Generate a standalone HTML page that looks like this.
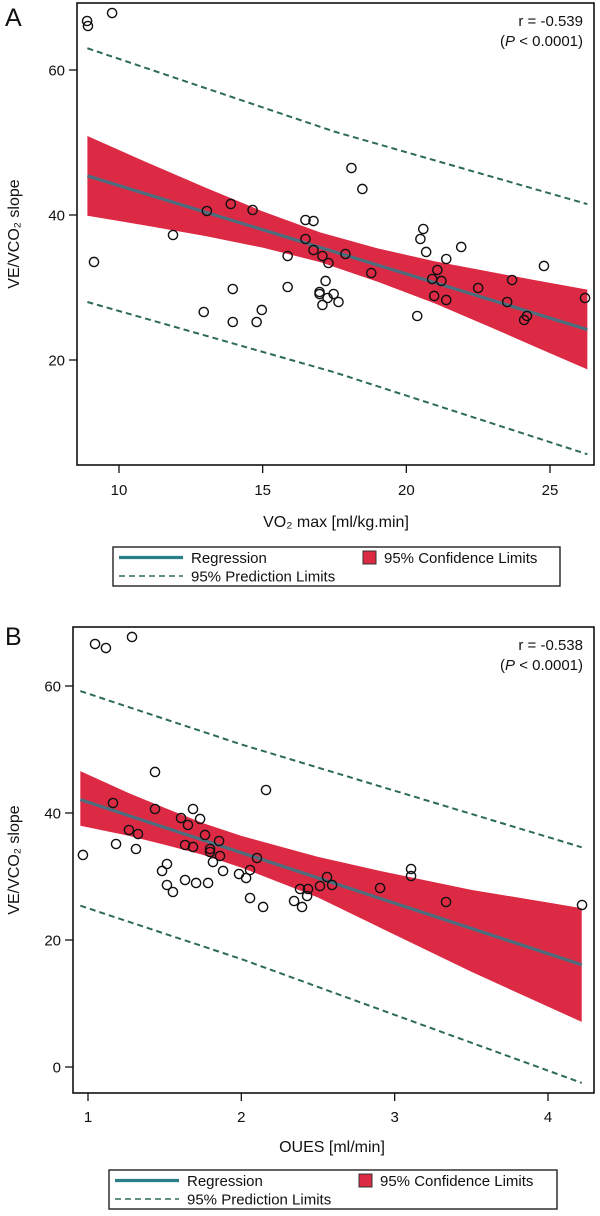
<!DOCTYPE html>
<html><head><meta charset="utf-8"><style>
html,body{margin:0;padding:0;background:#fff}
svg{display:block}
text{font-family:"Liberation Sans",Arial,sans-serif;fill:#111}
</style></head><body>
<svg id="fig" width="600" height="1216" viewBox="0 0 600 1216" xmlns="http://www.w3.org/2000/svg"></svg>
<script>
// ---------- Panel A data ----------
const aPointsX = [8.89,8.92,9.76,9.13,11.88,13.06,13.89,14.65,16.49,16.77,16.49,16.77,17.08,17.29,15.87,17.19,15.87,13.96,16.98,16.98,17.26,17.47,17.08,17.64,12.95,14.97,13.96,14.79,18.09,18.47,20.59,20.49,20.69,21.91,21.39,17.88,18.78,21.08,20.90,21.22,22.50,23.68,24.79,20.97,21.39,23.51,20.38,26.22,24.20,24.10];
const aPointsY = [66.76,66.07,67.86,33.52,37.24,40.55,41.52,40.69,39.31,39.17,36.69,35.17,34.34,33.38,34.34,30.90,30.07,29.79,29.38,29.10,28.55,29.10,27.59,28.0,26.62,26.90,25.24,25.24,46.48,43.59,38.07,36.69,34.90,35.59,33.93,34.62,32.0,32.41,31.17,30.90,29.93,31.03,32.97,28.83,28.28,28.0,26.07,28.55,26.07,25.52];
const aRegX = [8.9,26.3];
const aRegY = [45.4,24.2];
const aCIX = [8.9,11,13,15,17,19,21,23,24.5,26.3];
const aCIUpper = [50.9,47.2,43.8,40.5,37.6,35.4,33.6,32.1,31.0,29.7];
const aCILower = [39.9,38.5,37.1,35.5,33.5,30.8,27.8,24.4,21.8,18.7];
const aPIX = [8.9,17.5,26.3];
const aPIUpper = [63.0,51.5,41.5];
const aPILower = [28.0,18.3,7.0];
const aXTicks = [10,15,20,25];
const aYTicks = [20,40,60];
// ---------- Panel B data ----------
const bPointsX = [1.046,1.117,1.287,1.437,1.163,1.437,1.685,1.607,1.731,1.652,1.267,1.326,1.763,1.855,1.183,1.633,1.685,1.313,1.796,1.796,1.861,0.967,2.102,1.815,1.515,1.483,1.881,2.057,1.985,2.031,1.633,1.705,1.783,1.515,1.554,2.057,2.142,2.161,2.559,2.513,2.592,2.383,2.435,2.429,2.344,2.396,2.905,3.107,3.107,3.335,4.222];
const bPointsY = [66.61,65.98,67.72,46.46,41.57,40.63,40.63,39.21,39.06,38.11,37.32,36.69,36.54,35.59,35.12,34.96,34.65,34.33,34.33,33.86,33.23,33.39,32.91,32.28,31.97,30.87,30.87,31.02,30.39,29.76,29.45,28.98,28.98,28.66,27.56,26.61,25.20,43.62,29.92,28.50,28.66,28.03,28.03,26.93,26.14,25.20,28.19,31.18,30.08,25.98,25.51];
const bRegX = [0.95,4.22];
const bRegY = [42.1,16.1];
const bCIX = [0.95,1.25,1.5,1.75,2.0,2.5,2.9,3.5,4.0,4.22];
const bCIUpper = [46.6,43.3,40.8,38.4,36.4,33.1,30.9,27.9,25.9,25.0];
const bCILower = [38.0,36.5,35.0,33.4,31.4,26.7,22.0,15.0,9.5,7.1];
const bPIX = [0.95,2.0,4.22];
const bPIUpper = [59.2,50.8,34.6];
const bPILower = [25.4,17.0,-2.5];
const bXTicks = [1,2,3,4];
const bYTicks = [0,20,40,60];

const NS = "http://www.w3.org/2000/svg";
const svg = document.getElementById('fig');
function mk(tag, attrs, parent){
  const e = document.createElementNS(NS, tag);
  for (const k in attrs) e.setAttribute(k, attrs[k]);
  (parent||svg).appendChild(e);
  return e;
}
function lin(d0,d1,r0,r1){ return v => r0 + (v-d0)*(r1-r0)/(d1-d0); }

function panel(cfg){
  const g = mk('g', {});
  
  
  const x = lin(cfg.xd0, cfg.xd1, cfg.xr0, cfg.xr1);
  const y = lin(cfg.yd0, cfg.yd1, cfg.yr0, cfg.yr1);
  const L=cfg.left, R=cfg.right, T=cfg.top, B=cfg.bottom;
  let d = '';
  cfg.ciX.forEach((v,i)=>{ d += (i?'L':'M') + x(v).toFixed(2) + ',' + y(cfg.ciU[i]).toFixed(2); });
  for (let i=cfg.ciX.length-1;i>=0;i--) d += 'L' + x(cfg.ciX[i]).toFixed(2) + ',' + y(cfg.ciL[i]).toFixed(2);
  const band = mk('path', {d: d+'Z', fill:'#dc2a44', stroke:'none'}, g);
  
  
  [['upper',cfg.piU],['lower',cfg.piL]].forEach(([nm,arr])=>{
    const pts = cfg.piX.map((v,i)=>x(v).toFixed(2)+','+y(arr[i]).toFixed(2)).join(' ');
    const pl = mk('polyline', {points:pts, fill:'none', stroke:'#2e6b57', 'stroke-width':2, 'stroke-dasharray':'6,4'}, g);
    
    
  });
  const reg = mk('line', {x1:x(cfg.regX[0]), y1:y(cfg.regY[0]), x2:x(cfg.regX[1]), y2:y(cfg.regY[1]), stroke:'#4d6e7e', 'stroke-width':3.2}, g);
  
  
  cfg.px.forEach((v,i)=>{
    const c = mk('circle', {cx:x(v).toFixed(2), cy:y(cfg.py[i]).toFixed(2), r:4.6, fill:'none', stroke:'#111', 'stroke-width':1.4}, g);
    
    
  });
  const fr = mk('rect', {x:L, y:T, width:R-L, height:B-T, fill:'none', stroke:'#111', 'stroke-width':1.6}, g);
  
  
  cfg.xt.forEach(v=>{
    const tl = mk('line', {x1:x(v), x2:x(v), y1:B, y2:B+8, stroke:'#111', 'stroke-width':1.3}, g);
    
    
    const t = mk('text', {x:x(v), y:cfg.xtY, 'text-anchor':'middle', 'font-size':15}, g);
    t.textContent = v;
    
    
  });
  cfg.yt.forEach(v=>{
    const tl = mk('line', {x1:L-8, x2:L, y1:y(v), y2:y(v), stroke:'#111', 'stroke-width':1.3}, g);
    
    
    const t = mk('text', {x:L-12, y:y(v)+5.5, 'text-anchor':'end', 'font-size':15}, g);
    t.textContent = v;
    
    
  });
  const xt = mk('text', {x:cfg.xTitleX, y:cfg.xTitleY, 'text-anchor':'middle', 'font-size':16}, g);
  xt.textContent = cfg.xTitle;
  
  
  const cy = (T+B)/2;
  const yt = mk('text', {x:19, y:cy, 'text-anchor':'middle', 'font-size':16, transform:'rotate(-90 19 '+cy+')'}, g);
  yt.textContent = 'VE/VCO\u2082 slope';
  
  
  const pl = mk('text', {x:5, y:cfg.labelY, 'font-size':25}, g);
  pl.textContent = cfg.label;
  
  
  const r1 = mk('text', {x:R-11, y:T+23, 'text-anchor':'end', 'font-size':15}, g);
  r1.textContent = cfg.r;
  
  
  const r2 = mk('text', {x:R-11, y:T+43, 'text-anchor':'end', 'font-size':15}, g);
  r2.innerHTML = '(<tspan font-style="italic">P</tspan> &lt; 0.0001)';
  
  
  const lg = mk('g', {}, g);
  
  
  const lb = mk('rect', {x:cfg.legX, y:cfg.legY, width:cfg.legW, height:39, fill:'#fff', stroke:'#222', 'stroke-width':1.4}, lg);
  
  
  const r1y = cfg.legY+10.5, r2y = cfg.legY+29;
  const ls = mk('line', {x1:cfg.legX+6, x2:cfg.legX+70, y1:r1y, y2:r1y, stroke:'#2a7f8a', 'stroke-width':3.2}, lg);
  
  
  const lt1 = mk('text', {x:cfg.legX+78, y:r1y+5.5, 'font-size':15}, lg);
  lt1.textContent = 'Regression';
  
  
  const ld = mk('line', {x1:cfg.legX+6, x2:cfg.legX+70, y1:r2y, y2:r2y, stroke:'#2e6b57', 'stroke-width':1.6, 'stroke-dasharray':'6,4'}, lg);
  
  
  const lt2 = mk('text', {x:cfg.legX+78, y:r2y+5.5, 'font-size':15}, lg);
  lt2.textContent = '95% Prediction Limits';
  
  
  const sq = mk('rect', {x:cfg.legX+250, y:r1y-6.5, width:13, height:13, fill:'#dc2a44', stroke:'#333', 'stroke-width':1}, lg);
  
  
  const lt3 = mk('text', {x:cfg.legX+271, y:r1y+5.5, 'font-size':15}, lg);
  lt3.textContent = '95% Confidence Limits';
  
  
}

panel({name:'panel-a', label:'A', labelY:26, r:'r = -0.539',
  left:77, right:594, top:3, bottom:465,
  xd0:10, xd1:25, xr0:119, xr1:550,
  yd0:60, yd1:20, yr0:70, yr1:360,
  px:aPointsX, py:aPointsY, regX:aRegX, regY:aRegY,
  ciX:aCIX, ciU:aCIUpper, ciL:aCILower, piX:aPIX, piU:aPIUpper, piL:aPILower,
  xt:aXTicks, yt:aYTicks, xtY:495, xTitle:'VO\u2082 max [ml/kg.min]', xTitleX:336, xTitleY:527,
  legX:113, legY:547, legW:447});

panel({name:'panel-b', label:'B', labelY:645, r:'r = -0.538',
  left:73, right:594, top:627, bottom:1093,
  xd0:1, xd1:4, xr0:88, xr1:548,
  yd0:0, yd1:60, yr0:1067, yr1:686,
  px:bPointsX, py:bPointsY, regX:bRegX, regY:bRegY,
  ciX:bCIX, ciU:bCIUpper, ciL:bCILower, piX:bPIX, piU:bPIUpper, piL:bPILower,
  xt:bXTicks, yt:bYTicks, xtY:1122, xTitle:'OUES [ml/min]', xTitleX:332, xTitleY:1152,
  legX:109, legY:1170, legW:448});
</script>
</body></html>
